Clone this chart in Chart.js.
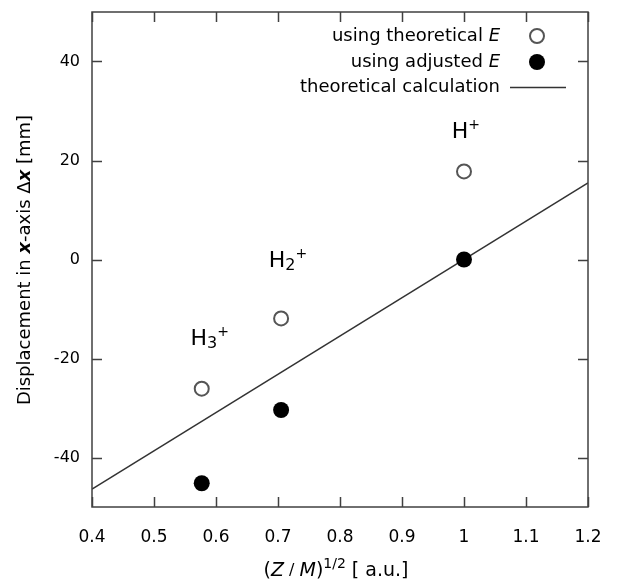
<!DOCTYPE html>
<html>
<head>
<meta charset="utf-8">
<script src="https://cdn.jsdelivr.net/npm/chart.js@4.4.1/dist/chart.umd.min.js"></script>
<style>
  html, body { margin: 0; padding: 0; background: #fff; }
  #chart { display: block; }
</style>
</head>
<body>
<canvas id="chart" width="618" height="585"></canvas>
<script>
'use strict';

// values
var ionNames = ['H3', 'H2', 'H'];
var ionSub = ['3', '2', ''];
var xValues = [0.577, 0.705, 1.0];
var theoretical = [-26.1, -11.9, 17.8];
var adjusted = [-45.2, -30.4, 0];
var calcX = [0.4, 1.2];
var calcY = [-46.4, 15.5];
var labelX = [0.59, 0.716, 1.003];
var labelY = [-16.2, -0.4, 25.7];
var xTicks = [0.4, 0.5, 0.6, 0.7, 0.8, 0.9, 1.0, 1.1, 1.2];
var yTicks = [-40, -20, 0, 20, 40];

var FONT = '"DejaVu Sans", Verdana, sans-serif';
var ctx = document.getElementById('chart').getContext('2d');

function pts(xs, ys) {
  var out = [];
  for (var i = 0; i < xs.length; i++) out.push({x: xs[i], y: ys[i]});
  return out;
}

// text pieces [{t, style, size, dy}] drawn one after the other
function pieceWidth(c, pieces) {
  var w = 0;
  pieces.forEach(function (p) {
    c.font = (p.style || '') + ' ' + p.size + 'px ' + FONT;
    w += c.measureText(p.t).width;
  });
  return w;
}
function drawPieces(c, pieces, x, y) {
  pieces.forEach(function (p) {
    c.font = (p.style || '') + ' ' + p.size + 'px ' + FONT;
    c.fillText(p.t, x, y + (p.dy || 0));
    x += c.measureText(p.t).width;
  });
}

var framePlugin = {
  id: 'frame',
  afterDraw: function (chart) {
    var c = chart.ctx;
    var a = chart.chartArea;
    var xs = chart.scales.x, ys = chart.scales.y;
    c.save();
    c.strokeStyle = '#404040';
    c.lineWidth = 1.5;
    c.strokeRect(a.left, a.top, a.right - a.left, a.bottom - a.top);
    c.beginPath();
    var tl = 10;
    xTicks.forEach(function (v) {
      var px = Math.round(xs.getPixelForValue(v)) + 0.5;
      c.moveTo(px, a.bottom); c.lineTo(px, a.bottom - tl);
      c.moveTo(px, a.top); c.lineTo(px, a.top + tl);
    });
    yTicks.forEach(function (v) {
      var py = Math.round(ys.getPixelForValue(v)) + 0.5;
      c.moveTo(a.left, py); c.lineTo(a.left + tl, py);
      c.moveTo(a.right, py); c.lineTo(a.right - tl, py);
    });
    c.stroke();

    c.fillStyle = '#000';
    c.textBaseline = 'middle';

    // ion labels
    for (var i = 0; i < ionNames.length; i++) {
      var lx = xs.getPixelForValue(labelX[i]);
      var ly = ys.getPixelForValue(labelY[i]);
      var pieces = [{t: 'H', size: 22}];
      if (ionSub[i]) pieces.push({t: ionSub[i], size: 16, dy: 4});
      pieces.push({t: '+', size: 14, dy: -7});
      var w = pieceWidth(c, pieces);
      drawPieces(c, pieces, lx - w / 2, ly);
    }

    // legend
    var lgRight = 500, mk = 537;
    var rows = [
      [{t: 'using theoretical ', size: 18}, {t: 'E', style: 'italic', size: 18}],
      [{t: 'using adjusted ', size: 18}, {t: 'E', style: 'italic', size: 18}],
      [{t: 'theoretical calculation', size: 18}]
    ];
    var rowY = [36, 62, 87];
    rows.forEach(function (r, k) {
      drawPieces(c, r, lgRight - pieceWidth(c, r), rowY[k]);
    });
    c.lineWidth = 2;
    c.strokeStyle = '#555';
    c.beginPath(); c.arc(mk, rowY[0], 7, 0, Math.PI * 2); c.stroke();
    c.fillStyle = '#000';
    c.beginPath(); c.arc(mk, rowY[1], 8, 0, Math.PI * 2); c.fill();
    c.strokeStyle = '#333';
    c.lineWidth = 1.5;
    c.beginPath(); c.moveTo(510, rowY[2] + 0.5); c.lineTo(566, rowY[2] + 0.5); c.stroke();

    // x axis title
    c.fillStyle = '#000';
    var xt = [
      {t: '(', size: 19},
      {t: 'Z', style: 'italic', size: 19},
      {t: ' / ', size: 16},
      {t: 'M', style: 'italic', size: 19},
      {t: ')', size: 19},
      {t: '1/2', size: 14, dy: -7},
      {t: ' [ a.u.]', size: 19}
    ];
    var xw = pieceWidth(c, xt);
    drawPieces(c, xt, 336 - xw / 2, 571);

    // y axis title
    var yt = [
      {t: 'Displacement in ', size: 18},
      {t: 'x', style: 'italic bold', size: 18},
      {t: '-axis \u0394', size: 18},
      {t: 'x', style: 'italic bold', size: 18},
      {t: ' [mm]', size: 18}
    ];
    var yw = pieceWidth(c, yt);
    c.translate(25, 260);
    c.rotate(-Math.PI / 2);
    drawPieces(c, yt, -yw / 2, 0);
    c.restore();
  }
};

var chart = new Chart(ctx, {
  type: 'scatter',
  data: {
    datasets: [
      {
        label: 'theoretical calculation',
        type: 'line',
        data: pts(calcX, calcY),
        borderColor: '#333',
        borderWidth: 1.5,
        pointRadius: 0,
        fill: false,
        order: 3
      },
      {
        label: 'using theoretical E',
        data: pts(xValues, theoretical),
        pointRadius: 7,
        pointBorderWidth: 2,
        borderColor: '#555',
        backgroundColor: '#fff',
        order: 1
      },
      {
        label: 'using adjusted E',
        data: pts(xValues, adjusted),
        pointRadius: 8,
        pointBorderWidth: 0,
        borderColor: '#000',
        backgroundColor: '#000',
        order: 2
      }
    ]
  },
  options: {
    responsive: false,
    animation: false,
    devicePixelRatio: 1,
    layout: { padding: { top: 12, right: 30, left: 0, bottom: 0 } },
    plugins: {
      legend: { display: false },
      tooltip: { enabled: false }
    },
    scales: {
      x: {
        type: 'linear',
        min: 0.4,
        max: 1.2,
        afterBuildTicks: function (s) { s.ticks = xTicks.map(function (v) { return {value: v}; }); },
        afterFit: function (s) { s.height = 78; s.paddingLeft = 0; s.paddingRight = 0; },
        grid: { display: false, drawTicks: false },
        border: { display: false },
        ticks: {
          padding: 20,
          color: '#000',
          font: { family: FONT, size: 17 },
          maxRotation: 0,
          callback: function (v) { return Math.abs(v - 1) < 1e-9 ? '1' : (Math.round(v * 10) / 10).toString(); }
        }
      },
      y: {
        type: 'linear',
        min: -50,
        max: 50,
        afterBuildTicks: function (s) { s.ticks = yTicks.map(function (v) { return {value: v}; }); },
        afterFit: function (s) { s.width = 92; s.paddingTop = 0; s.paddingBottom = 0; },
        grid: { display: false, drawTicks: false },
        border: { display: false },
        ticks: {
          padding: 12,
          color: '#000',
          font: { family: FONT, size: 16 }
        }
      }
    }
  },
  plugins: [framePlugin]
});
</script>
</body>
</html>
